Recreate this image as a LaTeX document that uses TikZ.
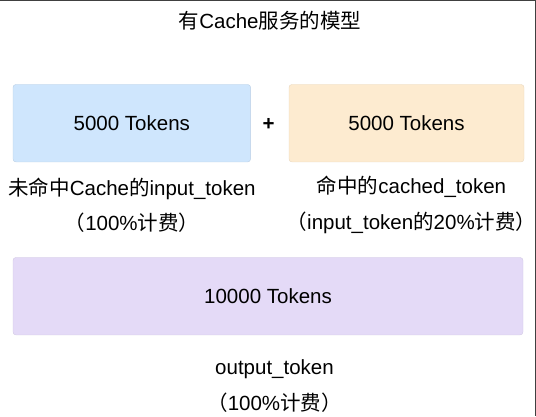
\documentclass[tikz,border=0pt]{standalone}
\usepackage{fontspec}
\setmainfont{Liberation Sans}
\newfontfamily\cjk{Noto Sans CJK SC}
\usepackage{xcolor}
\usetikzlibrary{positioning}

\definecolor{missblue}{HTML}{CFE6FD}
\definecolor{hitorange}{HTML}{FDEBD0}
\definecolor{outpurple}{HTML}{E4DAF7}

\begin{document}
\begin{tikzpicture}[
  x=1pt,
  y=-1pt,
  font=\fontsize{20.5}{24}\selectfont,
  tokbox/.style={rounded corners=3pt, minimum height=77.5pt, inner sep=0pt},
  note/.style={align=center, font=\fontsize{20.5}{35.5}\selectfont},
  edge/.style={draw=black!75, line width=1.2pt}
]
  \useasboundingbox (0,0) rectangle (536,416);
  \draw[edge] (0,0.6) -- (535.4,0.6) -- (535.4,416);

  \node (title) at (270,21) {{\cjk 有}Cache{\cjk 服务的模型}};

  \node[tokbox, fill=missblue, draw=missblue!90!black, line width=0.4pt, minimum width=237.6pt] (miss) at (131.8,123.2) {5000 Tokens};
  \node[tokbox, fill=hitorange, draw=hitorange!92!black, line width=0.4pt, minimum width=235pt] (hit) at (406.5,123.2) {5000 Tokens};
  \node[font=\bfseries\fontsize{20.5}{24}\selectfont] (plus) at (268.5,124) {+};

  \node[note] (misslbl) at (132,205) {{\cjk 未命中}Cache{\cjk 的}input\_token\\{\cjk （}100\%{\cjk 计费）}};
  \node[note] (hitlbl) at (411.5,205) {{\cjk 命中的}cached\_token\\{\cjk （}input\_token{\cjk 的}20\%{\cjk 计费）}};

  \node[tokbox, fill=outpurple, draw=outpurple!92!black, line width=0.4pt, minimum width=510pt] (out) at (268,296.2) {10000 Tokens};
  \node[note] (outlbl) at (274.5,386) {output\_token\\{\cjk （}100\%{\cjk 计费）}};
\end{tikzpicture}
\end{document}
